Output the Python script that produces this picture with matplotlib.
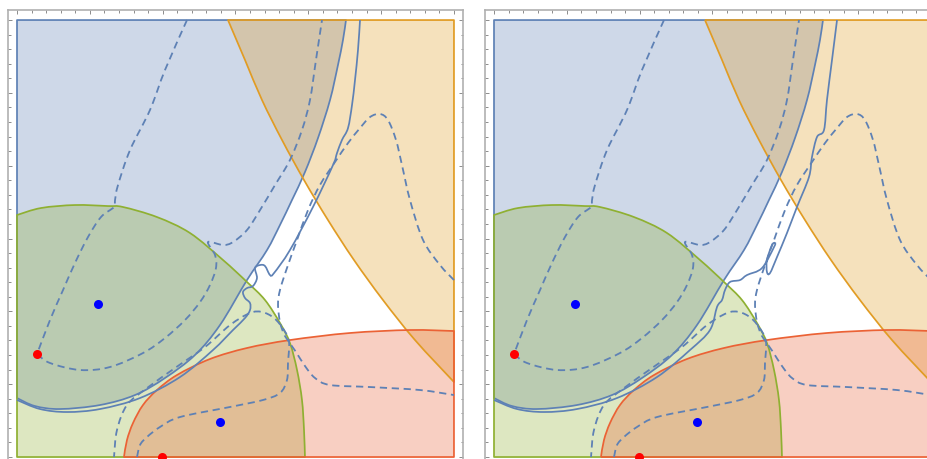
import numpy as np
import matplotlib.pyplot as plt
from matplotlib.path import Path
from matplotlib.patches import PathPatch
from matplotlib.ticker import MultipleLocator

BLUE = "#5E81B5"
ORANGE = "#E19C24"
GREEN = "#8FB032"
RED = "#EB6235"

# region boundaries (plot domain is [0, 6] x [0, 6])
blue_x = [0.000, 0.247, 0.590, 1.140, 1.620, 2.032, 2.444, 2.787, 3.158, 3.433,
          3.611, 3.776, 3.954, 4.133, 4.298, 4.407, 4.476, 4.517]
blue_y = [0.810, 0.700, 0.659, 0.714, 0.851, 1.085, 1.401, 1.812, 2.430, 2.842,
          3.186, 3.529, 3.913, 4.380, 4.902, 5.382, 5.726, 6.000]

orange_x = [2.897, 3.131, 3.364, 3.639, 3.941, 4.270, 4.627, 5.025, 5.465, 6.000]
orange_y = [6.000, 5.451, 4.902, 4.353, 3.803, 3.254, 2.705, 2.156, 1.606, 1.030]

green_x = [0.000, 0.330, 0.796, 1.249, 1.455, 1.922, 2.375, 2.829, 3.158, 3.405,
           3.611, 3.748, 3.845, 3.913, 3.941, 3.954]
green_y = [3.323, 3.419, 3.460, 3.446, 3.433, 3.295, 3.076, 2.705, 2.403, 2.156,
           1.840, 1.565, 1.195, 0.783, 0.371, 0.000]

red_x = [1.469, 1.510, 1.593, 1.730, 1.922, 2.197, 2.650, 3.158, 3.748, 4.572,
         5.396, 6.000]
red_y = [0.000, 0.233, 0.467, 0.714, 0.920, 1.126, 1.346, 1.497, 1.606, 1.703,
         1.744, 1.730]

# second solid contour, one trace per panel
edge_left_x = [0.000, 0.316, 0.687, 1.140, 1.689, 2.238, 2.691, 2.966, 3.131, 3.199,
               3.199, 3.131, 3.103, 3.158, 3.240, 3.295, 3.268, 3.337, 3.405, 3.474,
               3.529, 3.748, 4.064, 4.339, 4.394, 4.462, 4.545, 4.600, 4.641, 4.682,
               4.710]
edge_left_y = [0.783, 0.659, 0.618, 0.659, 0.810, 1.098, 1.469, 1.744, 1.909, 2.018,
               2.115, 2.183, 2.266, 2.320, 2.348, 2.458, 2.595, 2.636, 2.623, 2.499,
               2.526, 2.842, 3.433, 4.009, 4.174, 4.353, 4.517, 4.833, 5.176, 5.588,
               6.000]

edge_right_x = [0.000, 0.316, 0.687, 1.140, 1.689, 2.238, 2.691, 2.966, 3.062, 3.131,
                3.172, 3.240, 3.378, 3.474, 3.680, 3.845, 3.858, 3.817, 3.748, 3.748,
                3.790, 3.886, 4.023, 4.160, 4.325, 4.366, 4.435, 4.531, 4.572, 4.641,
                4.710]
edge_right_y = [0.783, 0.659, 0.618, 0.659, 0.810, 1.098, 1.469, 1.744, 2.060, 2.156,
                2.293, 2.403, 2.430, 2.499, 2.595, 2.883, 2.938, 2.911, 2.705, 2.540,
                2.526, 2.746, 3.076, 3.433, 3.845, 4.119, 4.394, 4.490, 4.902, 5.451,
                6.000]

# dashed level curves
dash_a_x = [2.334, 2.032, 1.826, 1.552, 1.387, 1.346, 1.332, 1.153, 0.975, 0.796,
            0.632, 0.453, 0.275]
dash_a_y = [6.000, 5.314, 4.765, 4.215, 3.735, 3.529, 3.433, 3.295, 3.021, 2.664,
            2.293, 1.881, 1.414]

dash_b_x = [0.275, 0.453, 0.865, 1.277, 1.730, 2.032, 2.307, 2.513, 2.650, 2.732,
            2.719, 2.623, 2.829, 2.966, 3.158, 3.337, 3.543, 3.748, 3.913, 4.023,
            4.105, 4.188]
dash_b_y = [1.414, 1.291, 1.195, 1.236, 1.428, 1.634, 1.881, 2.128, 2.362, 2.595,
            2.774, 2.952, 2.911, 2.952, 3.117, 3.391, 3.735, 4.078, 4.490, 4.902,
            5.451, 6.000]

dash_c_x = [6.000, 5.808, 5.575, 5.396, 5.286, 5.204, 5.094, 4.984, 4.847, 4.710,
            4.545, 4.366, 4.160, 3.996, 3.845, 3.707, 3.611, 3.584, 3.611, 3.666,
            3.735, 3.831, 3.954, 4.092, 4.298, 4.847, 5.533, 6.000]
dash_c_y = [2.430, 2.636, 2.980, 3.529, 4.009, 4.353, 4.627, 4.710, 4.668, 4.517,
            4.311, 4.050, 3.735, 3.391, 2.980, 2.595, 2.293, 2.087, 1.854, 1.689,
            1.579, 1.442, 1.250, 1.085, 0.989, 0.961, 0.920, 0.851]

dash_d_x = [1.648, 1.689, 1.785, 1.963, 2.238, 2.925, 3.378, 3.611, 3.707, 3.721,
            3.735, 3.666, 3.529, 3.364, 3.199, 2.925, 2.581, 2.169, 1.785, 1.510,
            1.373, 1.332]
dash_d_y = [0.000, 0.165, 0.275, 0.412, 0.549, 0.687, 0.783, 0.879, 1.057, 1.291,
            1.579, 1.744, 1.909, 1.991, 1.977, 1.812, 1.510, 1.222, 0.947, 0.714,
            0.371, 0.000]

blue_pts_x = [1.112, 2.787]
blue_pts_y = [2.101, 0.481]
red_pts_x = [0.275, 1.991]
red_pts_y = [1.414, 0.000]


def bezier_through(xs, ys):
    """Cubic Bezier segments (Catmull-Rom tangents) through the given nodes."""
    p = np.column_stack([xs, ys])
    n = len(p)
    verts = [p[0]]
    codes = [Path.MOVETO]
    for i in range(n - 1):
        p0 = p[i - 1] if i > 0 else p[i]
        p1, p2 = p[i], p[i + 1]
        p3 = p[i + 2] if i + 2 < n else p[i + 1]
        verts += [p1 + (p2 - p0) / 6, p2 - (p3 - p1) / 6, p2]
        codes += [Path.CURVE4] * 3
    return verts, codes


def region_path(xs, ys, corners):
    verts, codes = bezier_through(xs, ys)
    for c in corners:
        verts.append(c)
        codes.append(Path.LINETO)
    verts.append(verts[0])
    codes.append(Path.CLOSEPOLY)
    return Path(verts, codes)


def curve_path(xs, ys):
    verts, codes = bezier_through(xs, ys)
    return Path(verts, codes)


def draw_panel(ax, edge_x, edge_y):
    lw = 1.25
    regions = [
        (BLUE, region_path(blue_x, blue_y, [(0, 6)])),
        (ORANGE, region_path(orange_x, orange_y, [(6, 6)])),
        (GREEN, region_path(green_x, green_y, [(0, 0)])),
        (RED, region_path(red_x, red_y, [(6, 0)])),
    ]
    for color, path in regions:
        ax.add_patch(PathPatch(path, facecolor=color, alpha=0.3,
                               edgecolor="none", zorder=1))
    for color, path in regions:
        ax.add_patch(PathPatch(path, facecolor="none", edgecolor=color, lw=lw,
                               joinstyle="round", zorder=2))

    ax.add_patch(PathPatch(curve_path(edge_x, edge_y), facecolor="none",
                           edgecolor=BLUE, lw=lw, zorder=3))

    for xs, ys in [(dash_a_x, dash_a_y), (dash_b_x, dash_b_y),
                   (dash_c_x, dash_c_y), (dash_d_x, dash_d_y)]:
        ax.add_patch(PathPatch(curve_path(xs, ys), facecolor="none",
                               edgecolor=BLUE, lw=1.3, ls=(0, (4, 2.6)), zorder=4))

    ax.plot(blue_pts_x, blue_pts_y, "o", color="#0000FF", ms=6.5, mec="none",
            zorder=5, clip_on=False)
    ax.plot(red_pts_x, red_pts_y, "o", color="#FF0000", ms=6.5, mec="none",
            zorder=5, clip_on=False)

    ax.set_xlim(-0.1236, 6.124)
    ax.set_ylim(-0.137, 6.138)
    ax.xaxis.set_major_locator(MultipleLocator(1))
    ax.xaxis.set_minor_locator(MultipleLocator(0.2))
    ax.yaxis.set_major_locator(MultipleLocator(1))
    ax.yaxis.set_minor_locator(MultipleLocator(0.2))
    ax.tick_params(which="both", direction="in", top=True, right=True,
                   labelbottom=False, labelleft=False, color="#8C8C8C", width=0.7)
    ax.tick_params(which="major", length=3.2)
    ax.tick_params(which="minor", length=1.8)
    for sp in ax.spines.values():
        sp.set_color("#B0B0B0")
        sp.set_linewidth(1.2)


fig = plt.figure(figsize=(9.28, 4.59), dpi=100)
ax1 = fig.add_axes([8 / 928, -8 / 459, 455 / 928, 457 / 459])
ax2 = fig.add_axes([485 / 928, -8 / 459, 455 / 928, 457 / 459])

draw_panel(ax1, edge_left_x, edge_left_y)
draw_panel(ax2, edge_right_x, edge_right_y)

fig.savefig("out.png", dpi=100)
